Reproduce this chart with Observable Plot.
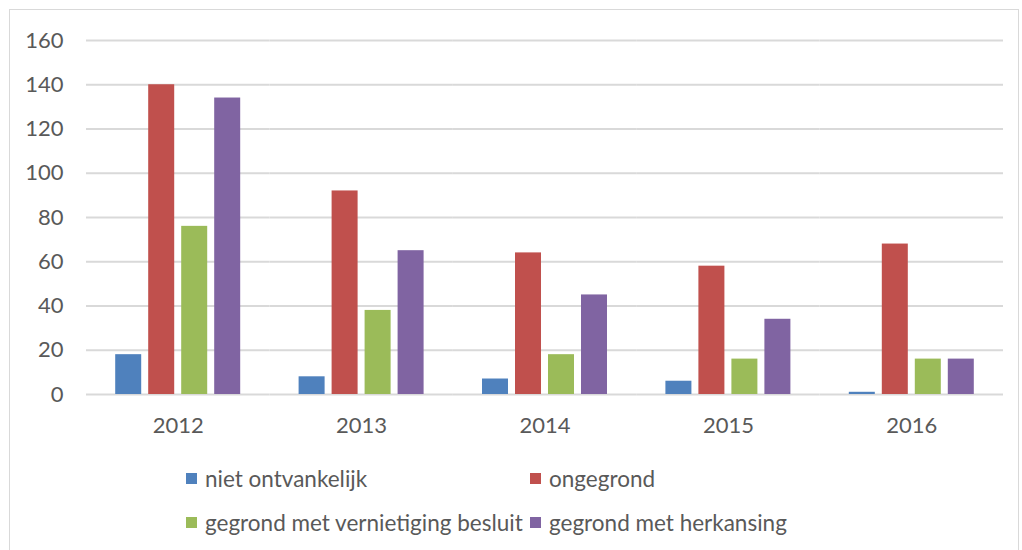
<!DOCTYPE html>
<html>
<head>
<meta charset="utf-8">
<script src="https://cdn.jsdelivr.net/npm/d3@7"></script>
<script src="https://cdn.jsdelivr.net/npm/@observablehq/plot@0.6"></script>
<style>
  html, body { margin: 0; padding: 0; background: #fff; }
  body { width: 1022px; height: 550px; position: relative; overflow: hidden; font-family: Lato, "Open Sans", sans-serif; }
  #frame { position: absolute; left: 9px; top: 9px; width: 1010px; height: 560px; border: 1px solid #d9d9d9; box-sizing: border-box; }
  #chart { position: absolute; left: 0; top: 0; }
  .legend { position: absolute; left: 0; top: 0; width: 1022px; height: 550px; pointer-events: none; }
  .item { position: absolute; display: flex; align-items: center; font-size: 22.5px; color: #595959; white-space: nowrap; }
  .sw { width: 11px; height: 11px; margin-right: 8px; }
</style>
</head>
<body>
<div id="frame"></div>
<div id="chart"></div>
<div class="legend" id="legend"></div>
<script>
const years = ["2012", "2013", "2014", "2015", "2016"];
const series = ["niet ontvankelijk", "ongegrond", "gegrond met vernietiging besluit", "gegrond met herkansing"];
const colors = ["#4F81BD", "#C0504D", "#9BBB59", "#8064A2"];
const nietOntvankelijk = [18, 8, 7, 6, 1];
const ongegrond = [140, 92, 64, 58, 68];
const gegrondVernietiging = [76, 38, 18, 16, 16];
const gegrondHerkansing = [134, 65, 45, 34, 16];
const yTicks = [0, 20, 40, 60, 80, 100, 120, 140, 160];

const valuesBySeries = [nietOntvankelijk, ongegrond, gegrondVernietiging, gegrondHerkansing];
const data = [];
years.forEach((yr, i) => {
  series.forEach((s, j) => data.push({year: yr, series: s, value: valuesBySeries[j][i]}));
});

const chart = Plot.plot({
  width: 1022,
  height: 450,
  marginTop: 40,
  marginBottom: 56,
  marginLeft: 86,
  marginRight: 19,
  style: {fontFamily: "Lato, 'Open Sans', sans-serif", fontSize: "22px", color: "#595959", background: "transparent"},
  fx: {domain: years, paddingInner: 0, paddingOuter: 0, round: false, label: null},
  x: {domain: series, paddingInner: 0.212, paddingOuter: 0.885, round: false, axis: null},
  y: {domain: [0, 160], label: null},
  color: {domain: series, range: colors},
  marks: [
    Plot.ruleY(yTicks, {stroke: "#d9d9d9", strokeWidth: 1.8}),
    Plot.barY(data, {fx: "year", x: "series", y: "value", fill: "series"}),
    Plot.axisY({ticks: yTicks, tickSize: 0, tickPadding: 23, fontSize: 22, label: null}),
    Plot.axisFx({anchor: "bottom", tickSize: 0, tickPadding: 23, fontSize: 22, label: null})
  ]
});
document.getElementById("chart").appendChild(chart);

const legendPos = [[186, 478], [530, 478], [186, 522], [530, 522]];
const legend = document.getElementById("legend");
series.forEach((s, i) => {
  const d = document.createElement("div");
  d.className = "item";
  d.style.left = legendPos[i][0] + "px";
  d.style.top = (legendPos[i][1] - 15) + "px";
  d.style.height = "30px";
  const sw = document.createElement("span");
  sw.className = "sw";
  sw.style.background = colors[i];
  d.appendChild(sw);
  d.appendChild(document.createTextNode(s));
  legend.appendChild(d);
});
</script>
</body>
</html>
